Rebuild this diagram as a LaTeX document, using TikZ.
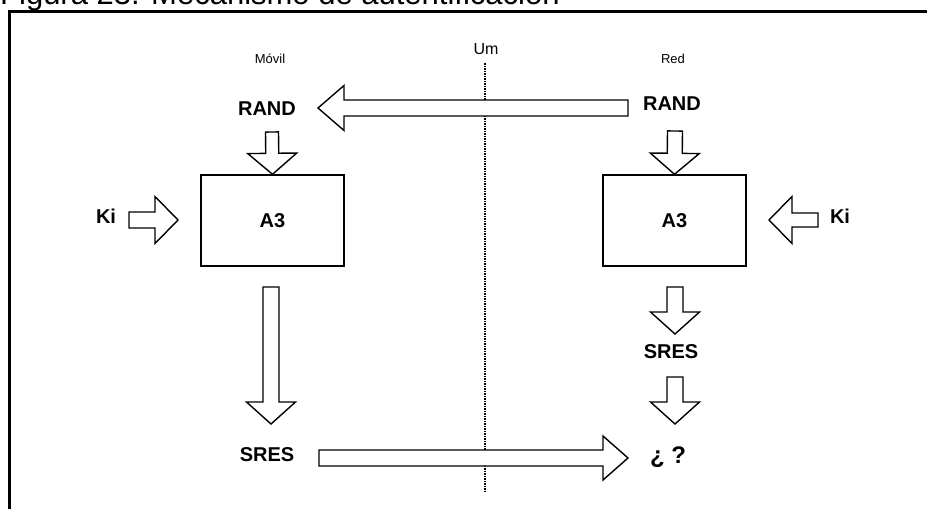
\documentclass[tikz,border=0pt]{standalone}
\usepackage{fontspec}
\setmainfont{Liberation Sans}
\usetikzlibrary{calc}
\tikzset{
  barrow/.style={draw=black, fill=white, line width=1.4pt, line join=miter},
  lbl/.style={font=\bfseries\fontsize{20}{20}\selectfont, inner sep=0pt},
  small/.style={font=\fontsize{13}{13}\selectfont, inner sep=0pt},
  algbox/.style={draw=black, line width=1.4pt, minimum width=143pt, minimum height=91pt, inner sep=0pt, font=\bfseries\fontsize{20}{20}\selectfont},
}
% block arrow from #1 to #2, half shaft #3, half head #4, head length #5
\newcommand\blockarrow[5]{%
  \path[barrow] let \p1=#1, \p2=#2,
    \n1={atan2(\y2-\y1,\x2-\x1)},
    \n2={scalar(veclen(\x2-\x1,\y2-\y1))} in
    [shift={(\p1)}, rotate=\n1]
    (0,#3) -- ({\n2-#5},#3) -- ({\n2-#5},#4) -- (\n2,0) -- ({\n2-#5},-#4)
    -- ({\n2-#5},-#3) -- (0,-#3) -- cycle;}
\begin{document}
\begin{tikzpicture}[x=1pt,y=-1pt]
\useasboundingbox (0,0) rectangle (927,509);
\clip (0,0) rectangle (927,509);
% caption (cut at the top)
\node[anchor=base west, inner sep=0pt, font=\fontsize{31}{31}\selectfont] (cap) at (0,4.5) {Figura 23. Mecanismo de autentificación};
% frame
\draw[line width=3pt] (9,515) -- (9,11) -- (930,11);
% Um line
\coordinate (umtop) at (485,63);
\coordinate (umbot) at (485,492);
\draw[line width=1.1pt, dash pattern=on 1.5pt off 1pt] (umtop) -- (umbot);
\node[font=\fontsize{16}{16}\selectfont, inner sep=0pt] (um) at (486,49) {Um};
\node[small] (movil) at (270,59) {Móvil};
\node[small] (red) at (673,59) {Red};
% boxes
\node[algbox] (boxL) at (272.5,220.5) {A3};
\node[algbox] (boxR) at (674.5,220.5) {A3};
% labels
\node[lbl] (randL) at (267,109) {RAND};
\node[lbl] (randR) at (672,104) {RAND};
\node[lbl] (kiL) at (106,216) {Ki};
\node[lbl] (kiR) at (840,216) {Ki};
\node[lbl] (sresL) at (267,455) {SRES};
\node[lbl] (sresR) at (671,352) {SRES};
\node[font=\bfseries\fontsize{24}{24}\selectfont, inner sep=0pt] (q) at (668,457) {¿ ?};
% arrow end points
\coordinate (r1) at (628,108);  \coordinate (r2) at (318,108);
\coordinate (k1) at (129,220);  \coordinate (k2) at (178,220);
\coordinate (k3) at (818,220);  \coordinate (k4) at (769,220);
\coordinate (s1) at (319,458);  \coordinate (s2) at (628,458);
\coordinate (l1) at (272,132);
\coordinate (l2) at (271,287);  \coordinate (l3) at (271,424);
\coordinate (m1) at (675,131);
\coordinate (m2) at (675,287);  \coordinate (m3) at (675,334);
\coordinate (m4) at (675,377);  \coordinate (m5) at (675,424);
% arrows
\blockarrow{(r1)}{(r2)}{8}{22.5}{26}
\blockarrow{(k1)}{(k2)}{8}{23.5}{23}
\blockarrow{(k3)}{(k4)}{7}{23.5}{23}
\blockarrow{(s1)}{(s2)}{8}{22}{25}
\blockarrow{(l1)}{(boxL.north)}{6.5}{24.5}{21}
\blockarrow{(m1)}{(boxR.north)}{7.5}{24.5}{21}
\blockarrow{(l2)}{(l3)}{8}{24.5}{22}
\blockarrow{(m2)}{(m3)}{8}{24.5}{22}
\blockarrow{(m4)}{(m5)}{8}{24.5}{22}
\end{tikzpicture}
\end{document}
